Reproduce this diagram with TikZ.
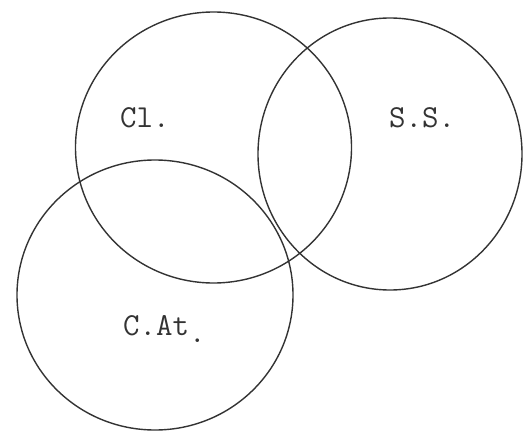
\documentclass[tikz,border=0pt]{standalone}
\usetikzlibrary{shapes.geometric}
\definecolor{ink}{HTML}{333333}
\tikzset{
  ring/.style={draw=ink, line width=1.4pt, ellipse, inner sep=0pt},
  lbl/.style={text=ink, font=\ttfamily\fontsize{32}{32}\selectfont, inner sep=0pt, anchor=base west}
}
\begin{document}
\begin{tikzpicture}[x=1pt,y=-1pt]
\useasboundingbox (0,0) rectangle (524,433);
\node[ring, minimum width=276pt, minimum height=271pt] (cl) at (213.5,147.5) {};
\node[ring, minimum width=264pt, minimum height=272pt] (ss) at (390,154) {};
\node[ring, minimum width=276pt, minimum height=270pt] (cat) at (155,295) {};
\node[lbl] (tcl) at (120,128) {Cl.};
\node[lbl] (tss) at (389,128) {S.S.};
\node[lbl] (tcat) at (123,335) {C.At\raisebox{-7pt}{.}};
\end{tikzpicture}
\end{document}
